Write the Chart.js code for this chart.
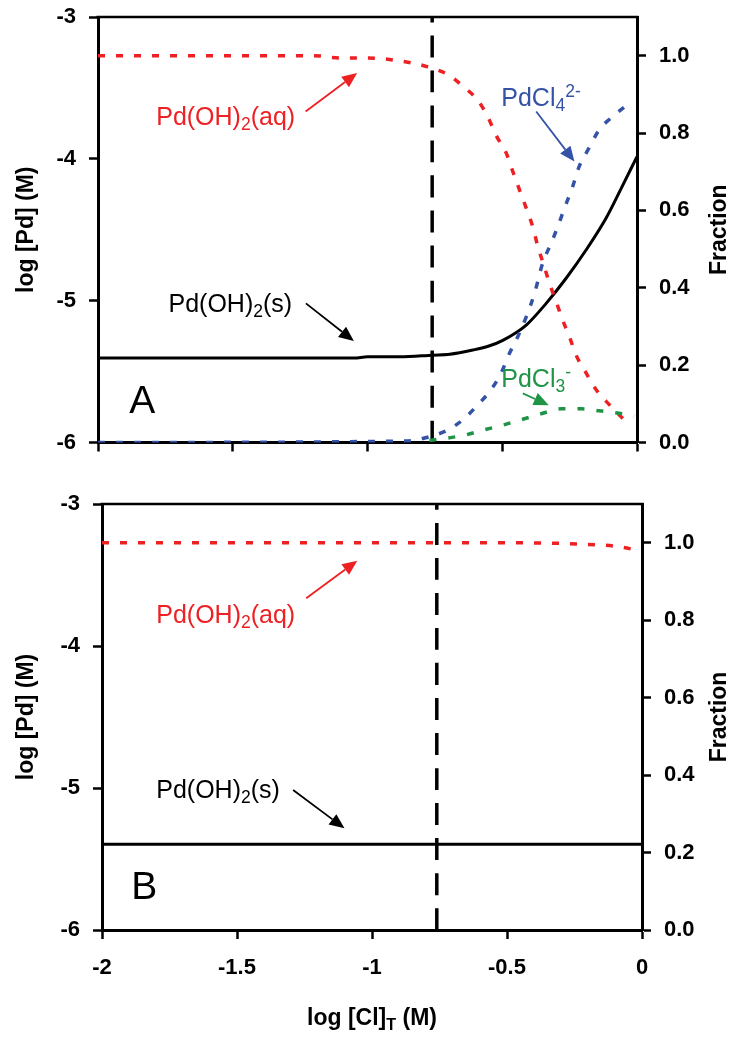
<!DOCTYPE html>
<html><head><meta charset="utf-8">
<script src="https://cdn.jsdelivr.net/npm/chart.js@4.4.1/dist/chart.umd.min.js"></script>
<style>
html,body{margin:0;padding:0;background:#fff;}
#wrap{position:relative;width:734px;height:1038px;overflow:hidden;background:#fff;}
#c1{position:absolute;left:0;top:0;}
#c2{position:absolute;left:0;top:470px;}
</style></head><body>
<div id="wrap">
<canvas id="c1" width="734" height="470"></canvas>
<canvas id="c2" width="734" height="568"></canvas>
</div>
<script>
// ---------- tick values ----------
const xTicks = [-2, -1.5, -1, -0.5, 0];
const logTicks = [-6, -5, -4, -3];
const fracTicks = [0, 0.2, 0.4, 0.6, 0.8, 1.0];

// ---------- vertical reference line (log [Cl]T) ----------
const refLineX = [-0.76, -0.76];
const refLineY = [-6, -3];

// ---------- Panel A ----------
const aSolidX = [-2, -1.05, -1.0, -0.88, -0.757, -0.695, -0.609, -0.547, -0.498, -0.411, -0.337, -0.263, -0.189, -0.115, -0.059, 0];
const aSolidY = [-5.405, -5.405, -5.395, -5.396, -5.384, -5.378, -5.348, -5.318, -5.280, -5.172, -5.019, -4.842, -4.643, -4.419, -4.210, -3.984];

const aAqX = [-2, -1.2, -1.1, -1.0, -0.85, -0.776, -0.7015, -0.646, -0.59, -0.553, -0.522, -0.485, -0.461, -0.436, -0.411, -0.387, -0.368, -0.346, -0.325, -0.300, -0.276, -0.251, -0.226, -0.189, -0.152, -0.103, -0.041];
const aAqY = [1.0, 1.0, 0.994, 0.994, 0.983, 0.971, 0.951, 0.921, 0.884, 0.841, 0.793, 0.748, 0.701, 0.653, 0.606, 0.558, 0.507, 0.459, 0.412, 0.364, 0.317, 0.274, 0.226, 0.180, 0.137, 0.098, 0.054];

const aCl4X = [-2, -0.85, -0.77, -0.70, -0.646, -0.59, -0.541, -0.504, -0.473, -0.442, -0.411, -0.380, -0.350, -0.3185, -0.294, -0.269, -0.2385, -0.2137, -0.183, -0.1396, -0.0963, -0.0407];
const aCl4Y = [0, 0.004, 0.015, 0.033, 0.059, 0.098, 0.137, 0.180, 0.231, 0.274, 0.325, 0.386, 0.464, 0.515, 0.558, 0.606, 0.662, 0.715, 0.755, 0.809, 0.839, 0.871];

const aCl3X = [-0.77, -0.64, -0.572, -0.498, -0.424, -0.35, -0.281, -0.207, -0.14, -0.066, -0.011];
const aCl3Y = [0.005, 0.019, 0.032, 0.045, 0.060, 0.0755, 0.087, 0.087, 0.082, 0.0755, 0.067];

// ---------- Panel B ----------
const bSolidX = [-2, 0];
const bSolidY = [-5.397, -5.397];
const bAqX = [-2, -0.5, -0.152, -0.086, -0.007];
const bAqY = [1.0, 1.0, 0.994, 0.990, 0.979];

// ---------- styling ----------
const FONT = "'Liberation Sans', Arial, Helvetica, sans-serif";
const RED = '#ED2024', BLUE = '#3453A6', GREEN = '#1F9447', BLACK = '#000000';

const pts = (xs, ys) => xs.map((x, i) => ({x: x, y: ys[i]}));

const aqLabel = [{t: 'Pd(OH)'}, {t: '2', sub: true}, {t: '(aq)'}];
const sLabel = [{t: 'Pd(OH)'}, {t: '2', sub: true}, {t: '(s)'}];
const cl4Label = [{t: 'PdCl'}, {t: '4', sub: true}, {t: '2-', sup: true}];
const cl3Label = [{t: 'PdCl'}, {t: '3', sub: true}, {t: '-', sup: true}];

function segFont(s, size, bold) {
  const sz = (s.sub || s.sup) ? size * 0.7 : size;
  return (bold ? 'bold ' : '') + sz + 'px ' + FONT;
}
function richWidth(ctx, segs, size, bold) {
  let w = 0;
  segs.forEach(s => { ctx.font = segFont(s, size, bold); w += ctx.measureText(s.t).width; });
  return w;
}
function drawRich(ctx, segs, x, y, size, color, bold, align) {
  const w = richWidth(ctx, segs, size, bold);
  let cx = align === 'center' ? x - w / 2 : x;
  ctx.fillStyle = color;
  ctx.textBaseline = 'alphabetic';
  ctx.textAlign = 'left';
  segs.forEach(s => {
    ctx.font = segFont(s, size, bold);
    let dy = 0;
    if (s.sub) dy = size * 0.2;
    if (s.sup) dy = -size * 0.37;
    ctx.fillText(s.t, cx, y + dy);
    cx += ctx.measureText(s.t).width;
  });
}
function arrow(ctx, x1, y1, x2, y2, color) {
  const ang = Math.atan2(y2 - y1, x2 - x1);
  const hl = 15, hw = 6.5;
  const bx = x2 - hl * Math.cos(ang), by = y2 - hl * Math.sin(ang);
  ctx.strokeStyle = color; ctx.fillStyle = color; ctx.lineWidth = 1.8; ctx.setLineDash([]);
  ctx.beginPath(); ctx.moveTo(x1, y1); ctx.lineTo(bx, by); ctx.stroke();
  ctx.beginPath(); ctx.moveTo(x2, y2);
  ctx.lineTo(bx + hw * Math.sin(ang), by - hw * Math.cos(ang));
  ctx.lineTo(bx - hw * Math.sin(ang), by + hw * Math.cos(ang));
  ctx.closePath(); ctx.fill();
}

function decorPlugin(P) {
  return {
    id: 'decor',
    afterDraw(chart) {
      const ctx = chart.ctx, a = chart.chartArea, xs = chart.scales.x, ys = chart.scales.y;
      ctx.save();
      // top frame line
      ctx.strokeStyle = '#000'; ctx.lineWidth = 2.5; ctx.setLineDash([]);
      ctx.beginPath(); ctx.moveTo(a.left - 1.5, a.top); ctx.lineTo(a.right + 1.5, a.top); ctx.stroke();
      // axis titles
      const midY = (a.top + a.bottom) / 2;
      ctx.save(); ctx.translate(27, midY); ctx.rotate(-Math.PI / 2);
      ctx.textAlign = 'center'; ctx.textBaseline = 'middle'; ctx.fillStyle = '#000';
      ctx.font = 'bold 23px ' + FONT; ctx.fillText('log [Pd] (M)', 0, 0); ctx.restore();
      ctx.save(); ctx.translate(720, midY); ctx.rotate(-Math.PI / 2);
      ctx.textAlign = 'center'; ctx.textBaseline = 'middle'; ctx.fillStyle = '#000';
      ctx.font = 'bold 23px ' + FONT; ctx.fillText('Fraction', 0, 0); ctx.restore();
      if (P.xTitle) {
        drawRich(ctx, [{t: 'log [Cl]'}, {t: 'T', sub: true}, {t: ' (M)'}], (a.left + a.right) / 2, P.xTitleY, 23, '#000', true, 'center');
      }
      // annotations
      P.texts.forEach(t => {
        drawRich(ctx, t.segs, xs.getPixelForValue(t.x), ys.getPixelForValue(t.y), t.size, t.color, false, 'left');
      });
      P.arrows.forEach(r => {
        arrow(ctx, xs.getPixelForValue(r.from[0]), ys.getPixelForValue(r.from[1]),
                   xs.getPixelForValue(r.to[0]), ys.getPixelForValue(r.to[1]), r.color);
      });
      ctx.restore();
    }
  };
}

function lineDS(data, axis, color, width, dash, order) {
  return {data: data, yAxisID: axis, borderColor: color, borderWidth: width, borderDash: dash,
          fill: false, pointRadius: 0, cubicInterpolationMode: 'monotone', borderCapStyle: 'butt', order: order};
}

function noPad(s) { s.paddingTop = 0; s.paddingBottom = 0; s.paddingLeft = 0; s.paddingRight = 0; }

function makePanel(canvas, P) {
  const tickFont = {family: FONT, size: 22, weight: 'bold'};
  const grid = {display: true, drawOnChartArea: false, drawTicks: true, tickLength: 9, tickWidth: 2.5, tickColor: '#000'};
  const border = {display: true, color: '#000', width: 3};
  return new Chart(canvas, {
    type: 'line',
    data: {datasets: P.datasets},
    options: {
      responsive: false, animation: false, devicePixelRatio: 1,
      layout: {autoPadding: false, padding: {top: P.top, left: 0, right: 0, bottom: 0}},
      plugins: {legend: {display: false}, tooltip: {enabled: false}},
      scales: {
        x: {type: 'linear', position: 'bottom', min: -2, max: 0,
            afterBuildTicks: s => { s.ticks = xTicks.map(v => ({value: v})); },
            ticks: {display: P.xLabels, font: tickFont, color: '#000', padding: 16, maxRotation: 0,
                    callback: v => String(v)},
            grid: grid, border: border,
            afterFit: s => { s.height = P.xHeight; noPad(s); }},
        y: {type: 'linear', position: 'left', min: -6, max: -3,
            afterBuildTicks: s => { s.ticks = logTicks.map(v => ({value: v})); },
            ticks: {font: tickFont, color: '#000', padding: 13, callback: v => String(v)},
            grid: grid, border: border,
            afterFit: s => { s.width = P.leftW; noPad(s); }},
        y1: {type: 'linear', position: 'right', min: 0, max: 1.1,
            afterBuildTicks: s => { s.ticks = fracTicks.map(v => ({value: v})); },
            ticks: {font: tickFont, color: '#000', padding: 13, callback: v => Number(v).toFixed(1)},
            grid: grid, border: border,
            afterFit: s => { s.width = P.rightW; noPad(s); }}
      }
    },
    plugins: [decorPlugin(P)]
  });
}

makePanel(document.getElementById('c1'), {
  top: 17, leftW: 98, rightW: 97, xHeight: 27.5, xLabels: false, xTitle: false,
  datasets: [
    lineDS(pts(refLineX, refLineY), 'y', BLACK, 3.5, [22, 13], 5),
    lineDS(pts(aSolidX, aSolidY), 'y', BLACK, 3, [], 4),
    lineDS(pts(aAqX, aAqY), 'y1', RED, 3.5, [7, 11], 3),
    lineDS(pts(aCl4X, aCl4Y), 'y1', BLUE, 3.5, [7, 11], 2),
    lineDS(pts(aCl3X, aCl3Y), 'y1', GREEN, 3.5, [7, 12], 1)
  ],
  texts: [
    {x: -1.784, y: -3.760, segs: aqLabel, size: 25, color: RED},
    {x: -1.7385, y: -5.078, segs: sLabel, size: 25, color: BLACK},
    {x: -0.5037, y: -3.626, segs: cl4Label, size: 25, color: BLUE},
    {x: -0.5037, y: -5.612, segs: cl3Label, size: 25, color: GREEN},
    {x: -1.884, y: -5.795, segs: [{t: 'A'}], size: 39, color: BLACK}
  ],
  arrows: [
    {from: [-1.2296, -3.666], to: [-1.0385, -3.395], color: RED},
    {from: [-1.2285, -5.019], to: [-1.0507, -5.285], color: BLACK},
    {from: [-0.374, -3.666], to: [-0.2322, -4.019], color: BLUE},
    {from: [-0.4237, -5.654], to: [-0.3274, -5.737], color: GREEN}
  ]
});

makePanel(document.getElementById('c2'), {
  top: 34, leftW: 102, rightW: 92, xHeight: 108, xLabels: true, xTitle: true, xTitleY: 555,
  datasets: [
    lineDS(pts(refLineX, refLineY), 'y', BLACK, 3.5, [22, 13], 3),
    lineDS(pts(bSolidX, bSolidY), 'y', BLACK, 3, [], 2),
    lineDS(pts(bAqX, bAqY), 'y1', RED, 3.5, [7, 11], 1)
  ],
  texts: [
    {x: -1.799, y: -3.840, segs: aqLabel, size: 25, color: RED},
    {x: -1.799, y: -5.0725, segs: sLabel, size: 25, color: BLACK},
    {x: -1.892, y: -5.784, segs: [{t: 'B'}], size: 39, color: BLACK}
  ],
  arrows: [
    {from: [-1.2437, -3.664], to: [-1.0544, -3.399], color: RED},
    {from: [-1.2922, -5.014], to: [-1.1019, -5.284], color: BLACK}
  ]
});
</script>
</body></html>
